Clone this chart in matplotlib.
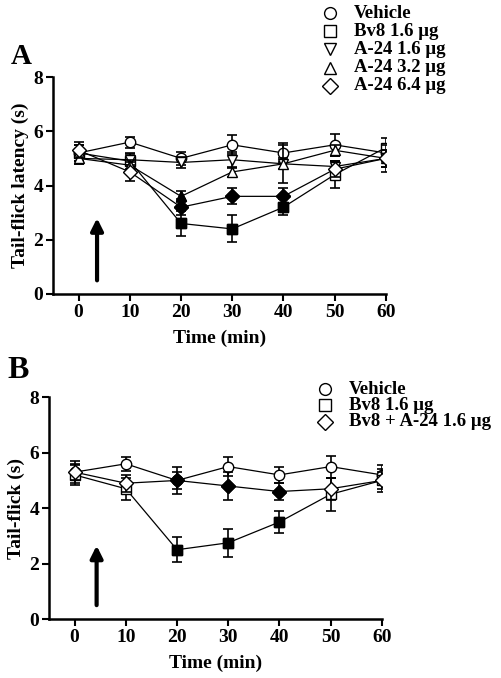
import matplotlib
matplotlib.use('Agg')
import matplotlib.pyplot as plt
import numpy as np

# ── 数据 ──
time = [0, 10, 20, 30, 40, 50, 60]

# Panel A
a_vehicle = [5.2, 5.6, 5.0, 5.5, 5.2, 5.5, 5.2]
a_vehicle_err = [0.3, 0.2, 0.25, 0.35, 0.35, 0.4, 0.3]
a_bv8 = [5.2, 4.9, 2.6, 2.4, 3.2, 4.4, 5.4]
a_bv8_err = [0.3, 0.3, 0.45, 0.5, 0.3, 0.5, 0.35]
a_a24_16 = [5.0, 4.95, 4.85, 4.95, 4.8, 4.7, 5.0]
a_a24_16_err = [0.2, 0.2, 0.2, 0.3, 0.2, 0.2, 0.3]
a_a24_32 = [5.0, 4.75, 3.6, 4.5, 4.8, 5.3, 5.0]
a_a24_32_err = [0.2, 0.2, 0.2, 0.2, 0.7, 0.2, 0.3]
a_a24_64 = [5.3, 4.5, 3.2, 3.6, 3.6, 4.6, 5.0]
a_a24_64_err = [0.3, 0.35, 0.3, 0.3, 0.3, 0.3, 0.5]
# 实心点 = 显著
a_bv8_sig = [False, False, True, True, True, False, False]
a_a24_32_sig = [False, False, True, False, False, False, False]
a_a24_64_sig = [False, False, True, True, True, False, False]

# Panel B
b_vehicle = [5.3, 5.6, 5.0, 5.5, 5.2, 5.5, 5.2]
b_vehicle_err = [0.4, 0.25, 0.3, 0.35, 0.3, 0.4, 0.35]
b_bv8 = [5.2, 4.7, 2.5, 2.75, 3.5, 4.5, 5.0]
b_bv8_err = [0.35, 0.4, 0.45, 0.5, 0.4, 0.6, 0.3]
b_bv8_sig = [False, False, True, True, True, False, False]
b_combo = [5.3, 4.9, 5.0, 4.8, 4.6, 4.7, 5.0]
b_combo_err = [0.3, 0.3, 0.5, 0.5, 0.3, 0.4, 0.4]
b_combo_sig = [False, False, True, True, True, False, False]

labels_a = ['Vehicle', 'Bv8 1.6 \u03bcg', 'A-24 1.6 \u03bcg', 'A-24 3.2 \u03bcg', 'A-24 6.4 \u03bcg']
labels_b = ['Vehicle', 'Bv8 1.6 \u03bcg', 'Bv8 + A-24 1.6 \u03bcg']

plt.rcParams['font.family'] = ['Liberation Serif', 'DejaVu Serif']
plt.rcParams['font.weight'] = 'bold'

fig = plt.figure(figsize=(5.02, 6.78), dpi=100)
axA = fig.add_axes([0.1056, 0.5664, 0.663, 0.32])
axB = fig.add_axes([0.0976, 0.087, 0.663, 0.327])


def draw_series(ax, y, err, marker, sig=None, z=3):
    ax.errorbar(time, y, yerr=err, fmt='none', ecolor='black', elinewidth=1.2,
                capsize=3.5, capthick=1.2, zorder=z)
    ax.plot(time, y, color='black', lw=0.9, marker=marker, ms=7.5,
            mfc='white', mec='black', mew=1.0, zorder=z + 0.5)
    if sig is not None:
        xs = [t for t, s in zip(time, sig) if s]
        ys = [v for v, s in zip(y, sig) if s]
        ax.plot(xs, ys, ls='none', marker=marker, ms=7.5, mfc='black',
                mec='black', zorder=z + 0.6)


def style_axis(ax, ylab):
    ax.set_xlim(-5, 60)
    ax.set_ylim(0, 8)
    ax.set_xticks(time)
    ax.set_yticks([0, 2, 4, 6, 8])
    for s in ['top', 'right']:
        ax.spines[s].set_visible(False)
    for s in ['left', 'bottom']:
        ax.spines[s].set_linewidth(1.8)
    ax.tick_params(direction='out', length=5, width=1.5, labelsize=14, pad=2)
    for lab in ax.get_xticklabels() + ax.get_yticklabels():
        lab.set_fontweight('bold')
    ax.set_xlabel('Time (min)', fontsize=14, fontweight='bold', labelpad=6.5)
    ax.set_ylabel(ylab, fontsize=14, fontweight='bold', labelpad=3)


# ── Panel A ──
draw_series(axA, a_vehicle, a_vehicle_err, 'o', z=3)
draw_series(axA, a_bv8, a_bv8_err, 's', a_bv8_sig, z=4)
draw_series(axA, a_a24_16, a_a24_16_err, 'v', z=5)
draw_series(axA, a_a24_32, a_a24_32_err, '^', a_a24_32_sig, z=6)
draw_series(axA, a_a24_64, a_a24_64_err, 'D', a_a24_64_sig, z=7)
style_axis(axA, 'Tail-flick latency (s)')
axA.annotate('', xy=(3.6, 2.9), xytext=(3.6, 0.4),
             arrowprops=dict(arrowstyle='-|>', color='black', lw=3,
                             mutation_scale=18))

# ── Panel B ──
draw_series(axB, b_vehicle, b_vehicle_err, 'o', z=3)
draw_series(axB, b_bv8, b_bv8_err, 's', b_bv8_sig, z=4)
draw_series(axB, b_combo, b_combo_err, 'D', b_combo_sig, z=5)
style_axis(axB, 'Tail-flick (s)')
axB.annotate('', xy=(4.3, 2.75), xytext=(4.3, 0.4),
             arrowprops=dict(arrowstyle='-|>', color='black', lw=3,
                             mutation_scale=18))

# ── 图例（手动绘制）──
def draw_legend(x_mark, x_text, y_rows, markers, labels, fs):
    W, H = 502.0, 678.0
    for yp, m, lab in zip(y_rows, markers, labels):
        fig.lines.append(plt.Line2D([x_mark / W], [1 - yp / H], transform=fig.transFigure,
                                    marker=m, ms=8.5, mfc='white', mec='black',
                                    mew=1.0, ls='none'))
        fig.text(x_text / W, 1 - yp / H, lab, fontsize=fs, fontweight='bold',
                 va='center', ha='left')

draw_legend(330, 354, [13, 31, 49, 68, 86], ['o', 's', 'v', '^', 'D'], labels_a, 13.5)
draw_legend(325, 349, [389, 405, 422], ['o', 's', 'D'], labels_b, 13.5)

# 面板字母
fig.text(11 / 502, 1 - 57 / 678, 'A', fontsize=21, fontweight='bold', va='center')
fig.text(7 / 502, 1 - 370 / 678, 'B', fontsize=23, fontweight='bold', va='center')

fig.savefig('out.png', dpi=100)
